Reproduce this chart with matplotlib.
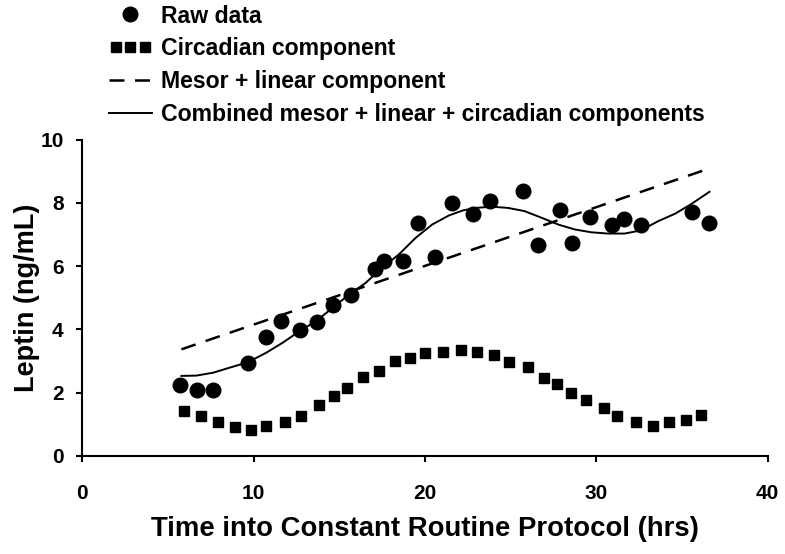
import matplotlib
matplotlib.use("Agg")
import matplotlib.pyplot as plt
from matplotlib.legend_handler import HandlerLine2D

plt.rcParams['font.family'] = ['Liberation Sans', 'DejaVu Sans']
plt.rcParams['font.weight'] = 'bold'

# raw leptin samples
raw_x = [5.7, 6.7, 7.65, 9.65, 10.7, 11.6, 12.7, 13.7, 14.6, 15.7, 17.1, 17.6, 18.7, 19.6,
         20.6, 21.6, 22.8, 23.8, 25.7, 26.6, 27.9, 28.6, 29.6, 30.9, 31.6, 32.6, 35.6, 36.6]
raw_y = [2.23, 2.07, 2.09, 2.94, 3.75, 4.26, 3.99, 4.24, 4.77, 5.08, 5.90, 6.17, 6.17, 7.37,
         6.30, 8.00, 7.65, 8.05, 8.38, 6.68, 7.77, 6.72, 7.56, 7.29, 7.48, 7.30, 7.72, 7.35]

# circadian component
circ_x = [5.92, 6.92, 7.9, 8.91, 9.85, 10.72, 11.82, 12.77, 13.78, 14.67, 15.42, 16.37, 17.32,
          18.22, 19.12, 20.02, 21.02, 22.12, 23.02, 24.02, 24.92, 26.02, 26.92, 27.72, 28.52,
          29.42, 30.42, 31.22, 32.32, 33.32, 34.22, 35.22, 36.12]
circ_y = [1.41, 1.25, 1.06, 0.92, 0.83, 0.94, 1.06, 1.25, 1.60, 1.88, 2.14, 2.48, 2.67,
          3.01, 3.11, 3.25, 3.30, 3.36, 3.30, 3.18, 2.96, 2.81, 2.45, 2.28, 1.99,
          1.78, 1.52, 1.25, 1.06, 0.96, 1.06, 1.15, 1.30]

# mesor + linear
lin_x = [5.78, 36.6]
lin_y = [3.37, 9.09]

# combined fit
comb_x = [5.78, 6.65, 7.62, 8.59, 9.65, 10.72, 11.69, 12.66, 13.63, 14.6, 15.56, 16.53, 17.5,
          18.47, 19.44, 20.4, 21.38, 22.2, 22.93, 23.9, 24.85, 25.8, 26.8, 27.8, 28.74, 29.7,
          30.68, 31.65, 32.6, 33.6, 34.6, 35.5, 36.6]
comb_y = [2.53, 2.54, 2.63, 2.79, 2.96, 3.26, 3.58, 3.94, 4.26, 4.68, 5.10, 5.47, 5.95,
          6.37, 6.89, 7.31, 7.60, 7.76, 7.84, 7.88, 7.84, 7.74, 7.53, 7.31, 7.16, 7.07,
          7.03, 7.03, 7.13, 7.42, 7.66, 7.95, 8.35]

fig = plt.figure(figsize=(7.85, 5.54), dpi=100)
ax = fig.add_axes([0.105, 0.177, 0.873, 0.571])

l_raw, = ax.plot(raw_x, raw_y, 'o', color='black', markersize=10.5, linestyle='none')
l_circ, = ax.plot(circ_x, circ_y, 's', color='black', markersize=7.5, linestyle='none')
l_lin, = ax.plot(lin_x, lin_y, color='black', lw=1.8, dashes=(6, 4.2))
l_comb, = ax.plot(comb_x, comb_y, color='black', lw=1.4)

ax.set_xlim(0, 40)
ax.set_ylim(0, 10)
ax.set_xticks([0, 10, 20, 30, 40])
ax.set_yticks([0, 2, 4, 6, 8, 10])
for s in ['top', 'right']:
    ax.spines[s].set_visible(False)
for s in ['left', 'bottom']:
    ax.spines[s].set_linewidth(1.5)
ax.tick_params(direction='out', length=4.5, width=1.5, labelsize=15, pad=9)
ax.tick_params(axis='x', pad=16)
ax.set_xlabel('Time into Constant Routine Protocol (hrs)', fontsize=19.8, fontweight='bold', labelpad=9)
ax.set_ylabel('Leptin (ng/mL)', fontsize=19.5, fontweight='bold', labelpad=0)

fig.legend([l_raw, l_circ, l_lin, l_comb],
           ['Raw data', 'Circadian component', 'Mesor + linear component',
            'Combined mesor + linear + circadian components'],
           loc='upper left', bbox_to_anchor=(0.136, 0.996), frameon=False,
           borderaxespad=0, borderpad=0.1,
           prop={'size': 16.6, 'weight': 'bold'}, handlelength=1.85, handletextpad=0.4,
           labelspacing=0.43,
           handler_map={l_raw: HandlerLine2D(numpoints=1),
                        l_circ: HandlerLine2D(numpoints=3)})

fig.savefig('out.png', dpi=100)
